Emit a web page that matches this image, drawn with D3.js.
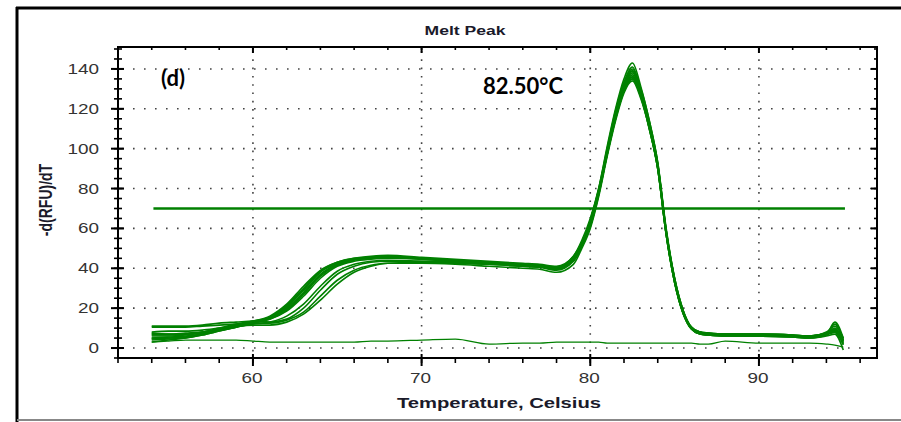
<!DOCTYPE html>
<html><head><meta charset="utf-8">
<script src="https://cdn.jsdelivr.net/npm/d3@7"></script>
<style>
html,body{margin:0;padding:0;background:#fff;}
svg{display:block;}
</style></head>
<body>
<svg id="chart" width="901" height="422"></svg>
<script>
// ---- Data ----
const temps = [54,55,56,57,58,59,60,61,62,63,64,65,66,67,68,70,72,74,76,77,78,79,79.5,80,80.5,81,81.5,82,82.5,83,83.5,84,84.5,85,85.5,86,86.5,87,88,90,92,93,94,94.5,95];
const m1 = [5,5,5.5,7,9,11,13,15,20,28,37,42,44.5,45.5,46, 45,44,43,42,41.5,40.5,45, 53,64,80,101,120,135,143,131,114,93,59,35,19,10.5,8,7.5, 7,7,6.5,6,7.5,9,4.5];
const m2 = [4,4.5,5,6.5,8.5,10.5,12.5,14.5,19,27,36,41.5,44,45,45.5, 44.5,43.5,42.5,41.5,41,40,44, 52,63,79,99,118,133,141,129,113,92,58,34,18,10,7.5,7, 6.5,6.5,6,5.5,7,8.5,3.5];
const m3 = [6,6,6.5,7.5,9.5,11.5,13.5,16,22,31,39,43,45,46,46.5, 45.5,44.5,43.5,42.5,42,41,46, 54,65,80,100,119,133,140,130,114,93,60,35,19,10,8,7.5, 7,7,6.5,6,8,11,5];
const m4 = [3,4,5,6.5,8.5,10.5,12.5,15,21,29,38,42.5,44.5,45.5,46, 45,44,43,42,41,40,45, 52,63,78,98,117,132,139,128,112,91,58,34,18,10,7.5,7, 6.5,6.5,6,5.5,7,9,3];
const m5 = [6.5,6.5,7,8,10,12,13.5,15.5,20.5,29.5,38.5,43,45,45.5,46, 45,44,43,42,41.5,40.5,46, 53,64,79,99,117,131,138,128,112,92,59,35,19,10.5,8,7.5, 7,7,6.5,6,7.5,10,4];
const m6 = [5,5.5,6,7,9,11,13,14.5,18.5,26,35,41,43.5,44.5,45, 44.5,43.5,42.5,41.5,41,39.5,44, 51,62,78,98,116,130,137,127,111,90,57,33,18,10,7.5,7, 6.5,6,6,5.5,7,8,2.5];
const m7 = [7.5,7,7,8,9.5,11.5,13,15,19.5,27.5,36.5,42,44.5,45,45.5, 45,44,43,41.5,41,40,45, 52,62,78,97,116,130,136,127,111,91,58,34,18,10,8,7, 7,6.5,6,6,7.5,12,4];
const m8 = [4.5,5,5.5,7,9,11,13,15.5,21.5,30,38.5,42.5,44.5,45.5,46, 45,44,43,42,41.5,40.5,45.5, 53,64,79,99,118,132,139,129,113,92,59,34,18,10,7.5,7, 6.5,6.5,6,5.5,7,9.5,3.5];
const l1 = [10.5,10.5,10.5,11,11.5,12,12.5,12.5,14,18,26,34,39,41.5,42.5, 43,42.5,42,41,40.5,39,43.5, 51,61,77,97,115,129,135,126,110,90,57,33,17.5,9.5,7,6.5, 6,6,5.5,5,6.5,8,1.5];
const l2 = [11,11,11,11.5,12.5,13,13.5,13,14.5,20,29,37,41,43,43.5, 43.5,43,42.5,41.5,41,39.5,44, 51,62,78,98,116,130,136,127,111,91,58,34,18,10,7.5,7, 6.5,6.5,6,5.5,7,13,5];
const l3 = [8,8.5,8.5,9,10,11,11.5,11.5,13,17,24,32,38,41,42.5, 42.5,42,41,40,39.5,38,42, 50,60,76,96,114,128,134,125,110,90,57,33,17.5,9.5,7,6.5, 6,6,5.5,5,6,7,-1];
const l4 = [7,7,7.5,8,9,10.5,12,13,16,22,31,38.5,42,43.5,44, 43.5,43,42,41,40.5,39.5,44, 51,61,77,97,115,129,135,126,110,90,57,33,17.5,9.5,7,6.5, 6,6,5.5,5,6.5,9.5,2];
const negControl = [3,3.5,4,4,4,4,3.5,3,3,3,3,3,3,3.5,3.5, 4,4.5,2,2.5,2.5,3,3, 3,3,3,2.5,2.5,2.5,2.5,2.5,2.5,2.5,2.5,2.5,2.5,2.5,2,2, 3.5,2.5,2.5,2.5,2,1.5,0.5];
const samples = [m1,m2,m3,m4,m5,m6,m7,m8,l1,l2,l3,l4,negControl];
const thresholdValue = 70;
const thresholdRange = [54.1, 95.1];
const xMajorTicks = [60,70,80,90];
const xMinorTicks = [52,54,56,58,60,62,64,66,68,70,72,74,76,78,80,82,84,86,88,90,92,94,96];
const yMajorTicks = [0,20,40,60,80,100,120,140];
const yMinorTicks = [-5,0,5,10,15,20,25,30,35,40,45,50,55,60,65,70,75,80,85,90,95,100,105,110,115,120,125,130,135,140,145,150];
const titleText = "Melt Peak";
const xTitle = "Temperature, Celsius";
const yTitle = "-d(RFU)/dT";
const panelLabel = "(d)";
const peakLabel = "82.50\u00B0C";

// ---- Layout ----
const svg = d3.select("#chart");
const L = 118, R = 877, T = 47, B = 358;
const x = d3.scaleLinear().domain([52, 97]).range([L, R]);
const y = d3.scaleLinear().domain([-5, 151]).range([B, T]);
const SX = 1.35;
const green = "#008000";

// outer frame
svg.append("line").attr("x1",17).attr("x2",17).attr("y1",7).attr("y2",422).attr("stroke","#000").attr("stroke-width",3);
svg.append("line").attr("x1",16).attr("x2",901).attr("y1",8).attr("y2",8).attr("stroke","#000").attr("stroke-width",3);
svg.append("line").attr("x1",17).attr("x2",901).attr("y1",420).attr("y2",420).attr("stroke","#888").attr("stroke-width",2);

// grid
const g = svg.append("g");
g.selectAll(".hg").data(yMajorTicks).join("line")
  .attr("x1",L+4).attr("x2",R).attr("y1",d=>y(d)).attr("y2",d=>y(d))
  .attr("stroke","#444").attr("stroke-width",1.6).attr("stroke-dasharray","1.6,9.4").attr("stroke-linecap","butt");
g.selectAll(".vg").data(xMajorTicks).join("line")
  .attr("x1",d=>x(d)).attr("x2",d=>x(d)).attr("y1",T+4).attr("y2",B)
  .attr("stroke","#444").attr("stroke-width",1.6).attr("stroke-dasharray","1.6,6.7");

// threshold
g.append("line").attr("x1",x(thresholdRange[0])).attr("x2",x(thresholdRange[1]))
  .attr("y1",y(thresholdValue)).attr("y2",y(thresholdValue))
  .attr("stroke",green).attr("stroke-width",2.5);

// curves
const line = d3.line().x((d,i)=>x(temps[i])).y(d=>y(d)).curve(d3.curveMonotoneX);
g.selectAll(".curve").data(samples).join("path")
  .attr("d", d=>line(d)).attr("fill","none").attr("stroke",green)
  .attr("stroke-width",(d,i)=> i===samples.length-1 ? 1.3 : 1.6);

// axis frame
svg.append("rect").attr("x",L).attr("y",T).attr("width",R-L).attr("height",B-T)
  .attr("fill","none").attr("stroke","#000").attr("stroke-width",2);

// ticks
const tk = svg.append("g").attr("stroke","#000").attr("stroke-width",1.6);
tk.selectAll(".bm").data(xMinorTicks).join("line").attr("x1",d=>x(d)).attr("x2",d=>x(d)).attr("y1",B).attr("y2",B+5);
tk.selectAll(".bM").data(xMajorTicks).join("line").attr("x1",d=>x(d)).attr("x2",d=>x(d)).attr("y1",B-4).attr("y2",B+8).attr("stroke-width",2);
tk.selectAll(".tm").data(xMinorTicks).join("line").attr("x1",d=>x(d)).attr("x2",d=>x(d)).attr("y1",T).attr("y2",T+3);
tk.selectAll(".tM").data(xMajorTicks).join("line").attr("x1",d=>x(d)).attr("x2",d=>x(d)).attr("y1",T).attr("y2",T+6).attr("stroke-width",2);
tk.selectAll(".lm").data(yMinorTicks).join("line").attr("x1",L-4).attr("x2",L+4).attr("y1",d=>y(d)).attr("y2",d=>y(d));
tk.selectAll(".lM").data(yMajorTicks).join("line").attr("x1",L-7).attr("x2",L+6).attr("y1",d=>y(d)).attr("y2",d=>y(d)).attr("stroke-width",2);
tk.selectAll(".rm").data(yMinorTicks).join("line").attr("x1",R-3).attr("x2",R).attr("y1",d=>y(d)).attr("y2",d=>y(d));
tk.selectAll(".rM").data(yMajorTicks).join("line").attr("x1",R-6).attr("x2",R).attr("y1",d=>y(d)).attr("y2",d=>y(d)).attr("stroke-width",2);

// labels
const font = "'Liberation Sans', Arial, sans-serif";
svg.selectAll(".yl").data(yMajorTicks).join("text")
  .attr("transform", d=>`translate(99,${y(d)+5}) scale(${SX},1)`)
  .attr("text-anchor","end").attr("font-family",font).attr("font-size",14).attr("fill","#333")
  .text(d=>d);
svg.selectAll(".xl").data(xMajorTicks).join("text")
  .attr("transform", d=>`translate(${x(d)-1},383) scale(${SX},1)`)
  .attr("text-anchor","middle").attr("font-family",font).attr("font-size",14).attr("fill","#333")
  .text(d=>d);

svg.append("text").attr("transform",`translate(465,35) scale(${SX},1)`)
  .attr("text-anchor","middle").attr("font-family",font).attr("font-weight","bold").attr("font-size",13).attr("fill","#1a1a2a")
  .text(titleText);
svg.append("text").attr("transform",`translate(499,408) scale(${SX},1)`)
  .attr("text-anchor","middle").attr("font-family",font).attr("font-weight","bold").attr("font-size",15).attr("fill","#1a1a2a")
  .text(xTitle);
svg.append("text").attr("transform",`translate(52,200) scale(${SX},1) rotate(-90)`)
  .attr("text-anchor","middle").attr("font-family",font).attr("font-weight","bold").attr("font-size",14).attr("fill","#1a1a2a")
  .text(yTitle);

svg.append("text").attr("x",161).attr("y",86).attr("font-family","Lato, 'Open Sans', sans-serif")
  .attr("font-weight","bold").attr("font-size",22).attr("fill","#000").text(panelLabel);
svg.append("text").attr("x",483).attr("y",94).attr("font-family","Lato, 'Open Sans', sans-serif")
  .attr("font-weight","bold").attr("font-size",22).attr("fill","#000").text(peakLabel);
</script>
</body></html>
